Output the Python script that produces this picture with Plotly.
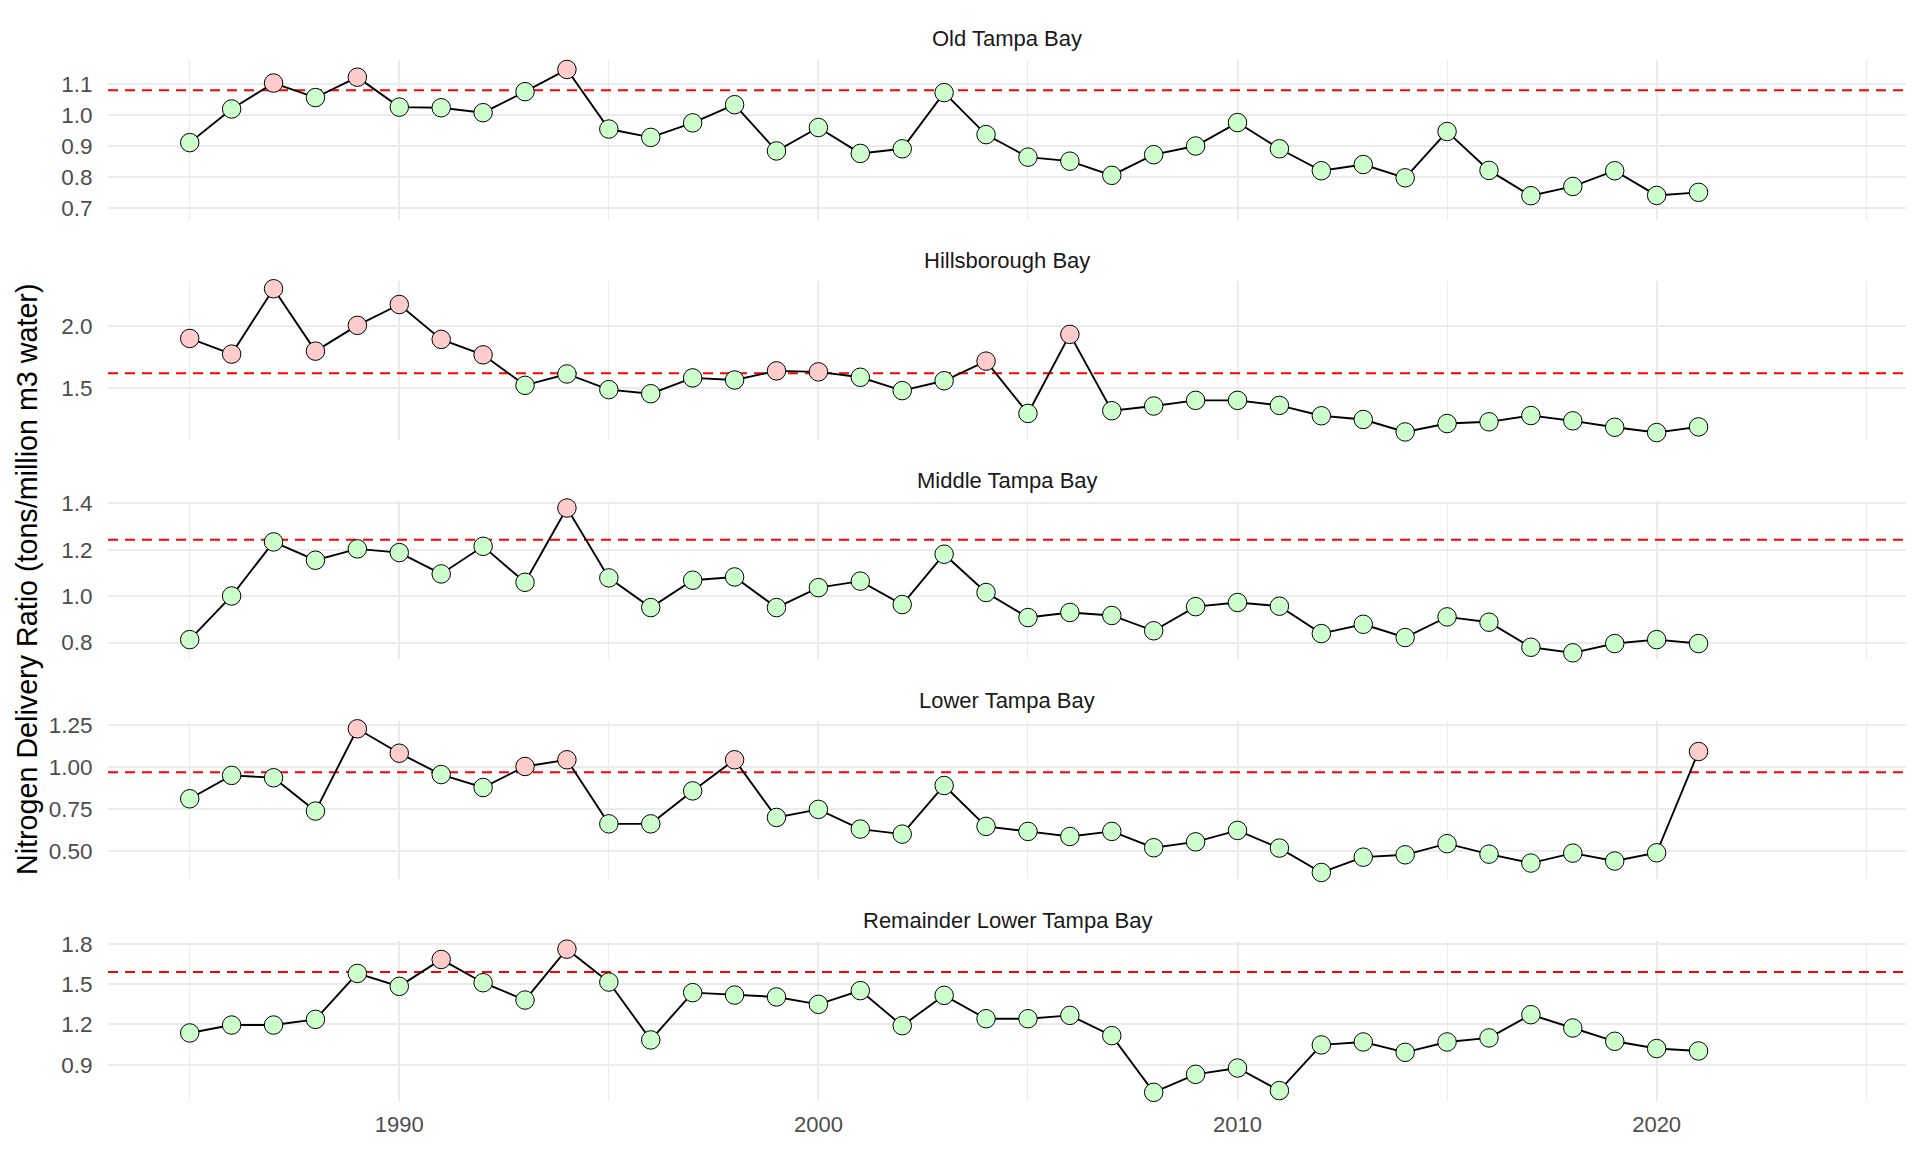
import plotly.graph_objects as go

years = list(range(1985, 2022))
bays = ["Old Tampa Bay", "Hillsborough Bay", "Middle Tampa Bay", "Lower Tampa Bay", "Remainder Lower Tampa Bay"]

otb = [0.911, 1.020, 1.104, 1.057, 1.123, 1.026, 1.024, 1.008, 1.076, 1.148, 0.955, 0.928, 0.975, 1.034, 0.884,
       0.960, 0.876, 0.891, 1.073, 0.937, 0.864, 0.851, 0.805, 0.872, 0.900, 0.976, 0.891, 0.820, 0.840, 0.797,
       0.947, 0.821, 0.739, 0.769, 0.820, 0.740, 0.750]
hb = [1.899, 1.772, 2.302, 1.796, 2.005, 2.174, 1.891, 1.766, 1.519, 1.611, 1.484, 1.451, 1.579, 1.562, 1.636,
      1.628, 1.584, 1.476, 1.556, 1.715, 1.291, 1.932, 1.313, 1.351, 1.397, 1.397, 1.356, 1.272, 1.242, 1.141,
      1.209, 1.223, 1.274, 1.231, 1.179, 1.136, 1.182]
mtb = [0.813, 1.001, 1.234, 1.155, 1.204, 1.188, 1.096, 1.215, 1.060, 1.380, 1.079, 0.951, 1.069, 1.083, 0.951,
       1.037, 1.065, 0.964, 1.181, 1.016, 0.908, 0.930, 0.917, 0.851, 0.955, 0.973, 0.957, 0.839, 0.879, 0.822,
       0.911, 0.888, 0.780, 0.756, 0.796, 0.813, 0.796]
ltb = [0.810, 0.949, 0.935, 0.737, 1.226, 1.081, 0.954, 0.877, 1.002, 1.042, 0.661, 0.661, 0.857, 1.042, 0.699,
       0.747, 0.630, 0.600, 0.889, 0.646, 0.616, 0.586, 0.616, 0.519, 0.554, 0.622, 0.517, 0.372, 0.463, 0.477,
       0.543, 0.481, 0.428, 0.487, 0.440, 0.489, 1.091]
rltb = [1.136, 1.195, 1.195, 1.237, 1.579, 1.483, 1.683, 1.510, 1.381, 1.760, 1.515, 1.084, 1.436, 1.418, 1.404,
        1.349, 1.451, 1.190, 1.416, 1.242, 1.242, 1.267, 1.116, 0.694, 0.828, 0.875, 0.707, 1.047, 1.069, 0.992,
        1.069, 1.099, 1.272, 1.173, 1.074, 1.020, 1.002]
series = [otb, hb, mtb, ltb, rltb]
thresholds = [1.081, 1.617, 1.243, 0.968, 1.589]

y_ticks = [[0.7, 0.8, 0.9, 1.0, 1.1], [1.5, 2.0], [0.8, 1.0, 1.2, 1.4], [0.50, 0.75, 1.00, 1.25], [0.9, 1.2, 1.5, 1.8]]
y_tick_text = [["0.7", "0.8", "0.9", "1.0", "1.1"], ["1.5", "2.0"], ["0.8", "1.0", "1.2", "1.4"],
               ["0.50", "0.75", "1.00", "1.25"], ["0.9", "1.2", "1.5", "1.8"]]
x_major = [1990, 2000, 2010, 2020]
x_minor = [1985, 1995, 2005, 2015, 2025]

# layout (pixels)
W, H = 1920, 1152
y_ranges = [[0.661, 1.179], [1.074, 2.363], [0.729, 1.409], [0.332, 1.270], [0.631, 1.819]]
x_range = [1983.05, 2025.95]
panel_px = [(59.9, 219.8), (281.2, 440.2), (501.3, 659.1), (721.4, 879.2), (941.2, 1100.8)]

FONT = "Liberation Sans, Arial, sans-serif"
GREEN = "#CCFFCC"
PINK = "#FFCCCC"
GRID = "#EBEBEB"

fig = go.Figure()
layout = dict(
    width=W, height=H,
    margin=dict(l=108, r=14, t=0, b=0),
    paper_bgcolor="white", plot_bgcolor="white",
    showlegend=False,
    font=dict(family=FONT, size=22, color="#4D4D4D"),
)
annotations = []
for i in range(5):
    n = i + 1
    xa = "x" if n == 1 else f"x{n}"
    ya = "y" if n == 1 else f"y{n}"
    vals = series[i]
    thr = thresholds[i]
    fig.add_trace(go.Scatter(x=x_range, y=[thr, thr], mode="lines", xaxis=xa, yaxis=ya,
                             line=dict(color="red", width=2, dash="10px,7px"), hoverinfo="skip"))
    fig.add_trace(go.Scatter(x=years, y=vals, mode="lines", xaxis=xa, yaxis=ya,
                             line=dict(color="black", width=1.9)))
    colors = [PINK if v > thr else GREEN for v in vals]
    fig.add_trace(go.Scatter(x=years, y=vals, mode="markers", xaxis=xa, yaxis=ya, cliponaxis=False,
                             marker=dict(size=18.5, color=colors, line=dict(color="black", width=1))))
    top, bot = panel_px[i]
    dom = [1 - bot / H, 1 - top / H]
    layout["xaxis" if n == 1 else f"xaxis{n}"] = dict(
        domain=[0, 1], anchor=ya, range=x_range, tickvals=x_major, ticktext=[str(v) for v in x_major],
        showticklabels=(n == 5), showgrid=True, gridcolor=GRID, gridwidth=2, zeroline=False, showline=False,
        ticks="outside" if n == 5 else "", ticklen=4, tickcolor="rgba(0,0,0,0)", automargin=False,
        minor=dict(tickvals=x_minor, showgrid=True, gridcolor=GRID, gridwidth=1, ticks=""),
        tickfont=dict(family=FONT, size=22, color="#4D4D4D"),
    )
    layout["yaxis" if n == 1 else f"yaxis{n}"] = dict(
        domain=dom, anchor=xa, range=y_ranges[i], tickvals=y_ticks[i], ticktext=y_tick_text[i],
        showgrid=True, gridcolor=GRID, gridwidth=2, zeroline=False, showline=False,
        ticks="outside", ticklen=10, tickcolor="rgba(0,0,0,0)", automargin=False,
        tickfont=dict(family=FONT, size=22.5, color="#4D4D4D"),
    )
    annotations.append(dict(text=bays[i], xref="paper", yref="paper", x=0.5, y=1 - (top - 21) / H,
                            xanchor="center", yanchor="middle", showarrow=False,
                            font=dict(family=FONT, size=22, color="#1A1A1A")))

annotations.append(dict(text="Nitrogen Delivery Ratio (tons/million m3 water)", xref="paper", yref="paper",
                        x=(27 - 108) / (W - 108 - 14), y=1 - 580 / H, xanchor="center", yanchor="middle",
                        textangle=-90, showarrow=False, font=dict(family=FONT, size=28.7, color="black")))
layout["annotations"] = annotations
fig.update_layout(**layout)
fig.write_html("out.html", config={"displayModeBar": False},
               post_script="document.body.style.margin='0px';")
